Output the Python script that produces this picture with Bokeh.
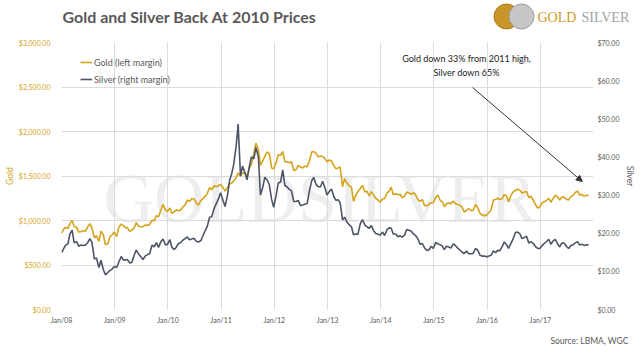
import pandas as pd
from bokeh.plotting import figure
from bokeh.layouts import column
from bokeh.core.properties import value
from bokeh.models import (LinearAxis, Range1d, FixedTicker, DatetimeTickFormatter,
                          NumeralTickFormatter, Label, Arrow, NormalHead, Legend, LegendItem)
from bokeh.embed import file_html
from bokeh.resources import INLINE

# ---------------- data (semi-monthly, USD/oz) ----------------
gold_start = [857]
gold_2008 = [895, 925, 910, 965, 1000, 935, 925, 870, 875, 885, 880, 925,
             965, 915, 805, 830, 765, 880, 840, 730, 735, 815, 840, 870]
gold_2009 = [820, 920, 960, 945, 920, 920, 880, 890, 920, 975, 935, 930,
             930, 950, 945, 955, 1005, 995, 1055, 1040, 1120, 1180, 1125, 1100]
gold_2010 = [1140, 1080, 1100, 1120, 1110, 1115, 1155, 1170, 1230, 1215, 1245, 1245,
             1200, 1170, 1220, 1245, 1270, 1305, 1370, 1345, 1390, 1380, 1390, 1405]
gold_2011 = [1370, 1330, 1370, 1410, 1420, 1440, 1480, 1535, 1500, 1535, 1530, 1500,
             1590, 1630, 1760, 1870, 1800, 1620, 1670, 1720, 1770, 1750, 1590, 1580]
gold_2012 = [1650, 1740, 1730, 1775, 1660, 1660, 1650, 1660, 1560, 1570, 1620, 1600,
             1590, 1610, 1605, 1660, 1770, 1775, 1755, 1715, 1725, 1720, 1695, 1660]
gold_2013 = [1680, 1670, 1615, 1580, 1590, 1600, 1380, 1470, 1420, 1395, 1375, 1215,
             1285, 1325, 1360, 1395, 1320, 1330, 1275, 1325, 1280, 1250, 1230, 1205]
gold_2014 = [1245, 1245, 1310, 1330, 1375, 1290, 1300, 1290, 1295, 1255, 1275, 1320,
             1310, 1295, 1310, 1290, 1235, 1215, 1235, 1170, 1165, 1180, 1200, 1200]
gold_2015 = [1260, 1285, 1225, 1210, 1155, 1185, 1200, 1185, 1220, 1190, 1180, 1170,
             1150, 1095, 1115, 1135, 1110, 1115, 1180, 1145, 1080, 1060, 1055, 1060]
gold_2016 = [1090, 1115, 1230, 1235, 1250, 1235, 1245, 1290, 1275, 1210, 1285, 1320,
             1340, 1350, 1340, 1310, 1320, 1325, 1255, 1275, 1225, 1180, 1140, 1150]
gold_2017 = [1200, 1210, 1230, 1250, 1205, 1245, 1285, 1265, 1230, 1265, 1260, 1240,
             1230, 1265, 1285, 1315, 1330, 1285, 1295, 1275, 1280, 1285]

silver_start = [14.9]
silver_2008 = [15.8, 16.8, 17.2, 19.8, 20.8, 17.5, 17.8, 16.6, 16.9, 16.8, 16.9, 17.5,
               18.6, 17.6, 13.2, 13.5, 11.0, 12.9, 10.5, 9.1, 9.7, 10.2, 10.6, 11.3]
silver_2009 = [11.0, 12.4, 13.9, 13.0, 13.0, 13.1, 12.2, 12.3, 14.2, 15.6, 14.5, 13.9,
               13.1, 14.0, 14.4, 14.6, 16.9, 16.4, 17.5, 16.3, 17.8, 18.5, 17.0, 17.0]
silver_2010 = [18.3, 16.3, 15.7, 16.4, 17.3, 17.5, 18.2, 18.6, 19.0, 18.3, 18.5, 18.7,
               17.9, 17.7, 18.0, 19.2, 20.7, 21.8, 24.2, 24.3, 26.5, 27.7, 29.0, 30.6]
silver_2011 = [28.6, 27.0, 30.0, 33.8, 35.5, 37.9, 42.7, 48.6, 35.0, 37.6, 35.8, 34.0,
               37.5, 40.0, 39.5, 42.5, 40.0, 30.0, 32.0, 34.7, 33.9, 32.7, 28.8, 26.8]
silver_2012 = [30.0, 33.1, 33.5, 36.6, 32.5, 32.2, 31.5, 31.1, 28.3, 28.3, 28.6, 27.3,
               27.4, 27.6, 27.8, 30.8, 33.8, 34.6, 32.8, 32.2, 32.2, 33.6, 31.9, 30.0]
silver_2013 = [31.0, 31.6, 29.5, 28.6, 28.8, 28.0, 23.5, 24.2, 22.9, 22.3, 21.7, 19.6,
               19.8, 19.7, 22.5, 23.6, 22.2, 21.7, 21.3, 22.0, 20.6, 19.9, 19.7, 19.5]
silver_2014 = [20.3, 19.4, 21.0, 21.4, 21.3, 19.8, 19.8, 19.1, 19.3, 19.0, 19.5, 21.0,
               20.8, 20.6, 19.8, 19.4, 18.5, 17.1, 17.3, 16.2, 15.5, 15.6, 16.6, 16.0]
silver_2015 = [17.6, 17.2, 17.0, 16.6, 15.7, 16.6, 16.4, 16.1, 17.2, 16.8, 16.1, 15.6,
               15.0, 14.7, 15.3, 14.6, 14.6, 14.7, 16.0, 15.6, 14.2, 14.0, 14.0, 13.8]
silver_2016 = [14.0, 14.2, 15.4, 14.9, 15.5, 15.4, 16.5, 17.7, 17.0, 16.0, 17.4, 18.5,
               20.2, 20.3, 19.8, 18.6, 18.9, 19.2, 17.4, 17.8, 17.3, 16.5, 16.0, 16.0]
silver_2017 = [16.8, 17.3, 17.9, 18.4, 17.1, 17.9, 18.4, 17.3, 16.4, 17.4, 17.4, 16.6,
               16.0, 16.7, 17.0, 17.4, 17.8, 16.9, 17.1, 16.8, 17.0, 16.9]

years = list(range(2008, 2018))
tick_years = list(range(2008, 2018))
gold_ticks = [0, 500, 1000, 1500, 2000, 2500, 3000]
silver_ticks = [0, 10, 20, 30, 40, 50, 60, 70]

title_text = "Gold and Silver Back At 2010 Prices"
note_line1 = "Gold down 33% from 2011 high,"
note_line2 = "Silver down 65%"
source_text = "Source: LBMA, WGC"
logo_gold = "GOLD"
logo_silver = "SILVER"
watermark_text = "GOLDSILVER"

gold = (gold_start + gold_2008 + gold_2009 + gold_2010 + gold_2011 + gold_2012 +
        gold_2013 + gold_2014 + gold_2015 + gold_2016 + gold_2017)
silver = (silver_start + silver_2008 + silver_2009 + silver_2010 + silver_2011 + silver_2012 +
          silver_2013 + silver_2014 + silver_2015 + silver_2016 + silver_2017)

dates = [pd.Timestamp("2008-01-02")]
for y in years:
    for m in range(1, 13):
        if y == 2017 and m == 12:
            break
        dates.append(pd.Timestamp(f"{y}-{m:02d}-14"))
        dates.append(pd.Timestamp(f"{y}-{m:02d}-28"))
dates = dates[:len(gold)]

# ---------------- styling ----------------
GOLD_C = "#d6a31c"
SILVER_C = "#4e5567"
TXT = "#595959"
GRID = "#dcdcdc"
FONT = "Lato"

W = 640
HEAD_H, MAIN_H, FOOT_H = 30, 300, 23
FL = 61            # frame left (page px)
FB = 309           # frame bottom (page px)


def blank(h):
    f = figure(width=W, height=h, x_range=Range1d(0, W), y_range=Range1d(0, h),
               output_backend="svg", toolbar_location=None,
               x_axis_location=None, y_axis_location=None,
               min_border=0, min_border_left=0, min_border_right=0,
               min_border_top=0, min_border_bottom=0)
    f.frame_align = False
    f.outline_line_color = None
    f.xgrid.visible = False
    f.ygrid.visible = False
    return f


# ---------------- header (title + logo) ----------------
head = blank(HEAD_H)
head.text(x=[62], y=[HEAD_H - 16], text=[title_text], text_font=value(FONT),
          text_font_size="16px", text_font_style="bold", text_color=TXT,
          text_baseline="middle", text_align="left")
head.scatter(x=[506], y=[HEAD_H - 16], size=25, fill_color="#c9952b", line_color="#a87a1c")
head.scatter(x=[521], y=[HEAD_H - 16], size=25, fill_color="#c6c6c6", line_color="#9c9c9c")
head.text(x=[537], y=[HEAD_H - 17], text=[logo_gold], text_font=value("Liberation Serif"),
          text_font_size="14px", text_color="#d09a2a", text_baseline="middle", text_align="left")
head.text(x=[581], y=[HEAD_H - 17], text=[logo_silver], text_font=value("Liberation Serif"),
          text_font_size="14px", text_color="#a3a3a3", text_baseline="middle", text_align="left")

# ---------------- main chart ----------------
p = figure(width=W, height=MAIN_H, x_axis_type="datetime", output_backend="svg",
           toolbar_location=None,
           x_range=Range1d(pd.Timestamp("2008-01-01"), pd.Timestamp("2018-01-01")),
           y_range=Range1d(0, 3000),
           min_border_left=FL, min_border_right=47, min_border_top=12, min_border_bottom=21)
p.frame_align = False
p.outline_line_color = None
p.extra_y_ranges = {"silver": Range1d(0, 70)}

xt = FixedTicker(ticks=[pd.Timestamp(f"{y}-01-01").value // 10**6 for y in tick_years])
p.xaxis.ticker = xt
p.xaxis.formatter = DatetimeTickFormatter(years="%b/%y", months="%b/%y", days="%b/%y",
                                          hours="%b/%y", hourmin="%b/%y")
p.yaxis.ticker = FixedTicker(ticks=gold_ticks)
p.yaxis.formatter = NumeralTickFormatter(format="$0,0.00")
p.yaxis.axis_label = "Gold"
p.yaxis.axis_label_text_color = GOLD_C
p.yaxis.major_label_text_color = GOLD_C
p.yaxis.major_label_standoff = 11
p.yaxis.axis_label_standoff = 1

ra = LinearAxis(y_range_name="silver", ticker=FixedTicker(ticks=silver_ticks),
                formatter=NumeralTickFormatter(format="$0,0.00"), axis_label="Silver")
ra.major_label_text_color = TXT
ra.axis_label_text_color = TXT
ra.major_label_standoff = 4
ra.axis_label_standoff = 3
p.add_layout(ra, "right")

for ax in [p.xaxis[0], p.yaxis[0], ra]:
    ax.axis_line_color = None
    ax.major_tick_line_color = None
    ax.minor_tick_line_color = None
    ax.major_tick_out = 0
    ax.major_tick_in = 0
    ax.minor_tick_out = 0
    ax.minor_tick_in = 0
    ax.major_label_text_font = FONT
    ax.major_label_text_font_size = "7px"
    ax.axis_label_text_font = FONT
    ax.axis_label_text_font_size = "8.5px"
    ax.axis_label_text_font_style = "normal"
p.xaxis.major_label_text_color = TXT
p.xaxis.major_label_standoff = 6

p.xgrid.grid_line_color = GRID
p.ygrid.grid_line_color = GRID
p.xgrid.ticker = xt
p.ygrid.ticker = FixedTicker(ticks=gold_ticks)

# watermark
p.add_layout(Label(x=103 - FL, y=FB - 198, x_units="screen", y_units="screen",
                   text=watermark_text, text_font="Liberation Serif", text_font_size="70px",
                   text_color="#eeeeee", text_baseline="alphabetic", level="image"))

gr = p.line(dates, gold, line_color=GOLD_C, line_width=1.6)
sr = p.line(dates, silver, line_color=SILVER_C, line_width=1.6, y_range_name="silver")

legend = Legend(items=[LegendItem(label="Gold (left margin)", renderers=[gr]),
                       LegendItem(label="Silver (right margin)", renderers=[sr])],
                location=(19, 224), padding=0, margin=0, spacing=5,
                glyph_width=12, glyph_height=12, label_height=12, label_standoff=2,
                label_text_font=FONT, label_text_font_size="9px", label_text_color=TXT,
                background_fill_alpha=0, border_line_color=None)
p.add_layout(legend)

p.add_layout(Label(x=466 - FL, y=FB - 58, x_units="screen", y_units="screen", text=note_line1,
                   text_font=FONT, text_font_size="9px", text_color="#222222",
                   text_align="center", text_baseline="middle"))
p.add_layout(Label(x=466 - FL, y=FB - 72, x_units="screen", y_units="screen", text=note_line2,
                   text_font=FONT, text_font_size="9px", text_color="#222222",
                   text_align="center", text_baseline="middle"))
arrow_start = (pd.Timestamp("2015-09-24"), 2494)
arrow_end = (pd.Timestamp("2017-10-16"), 1438)
p.add_layout(Arrow(x_start=arrow_start[0], y_start=arrow_start[1],
                   x_end=arrow_end[0], y_end=arrow_end[1],
                   line_color="#333333", line_width=1,
                   end=NormalHead(size=6, fill_color="#333333", line_color="#333333")))

# ---------------- footer ----------------
foot = blank(FOOT_H)
foot.text(x=[628], y=[FOOT_H - 10], text=[source_text], text_font=value(FONT),
          text_font_size="8.5px", text_color=TXT, text_align="right", text_baseline="middle")

layout = column(head, p, foot, spacing=0)
open("out.html", "w").write(file_html(layout, INLINE))
